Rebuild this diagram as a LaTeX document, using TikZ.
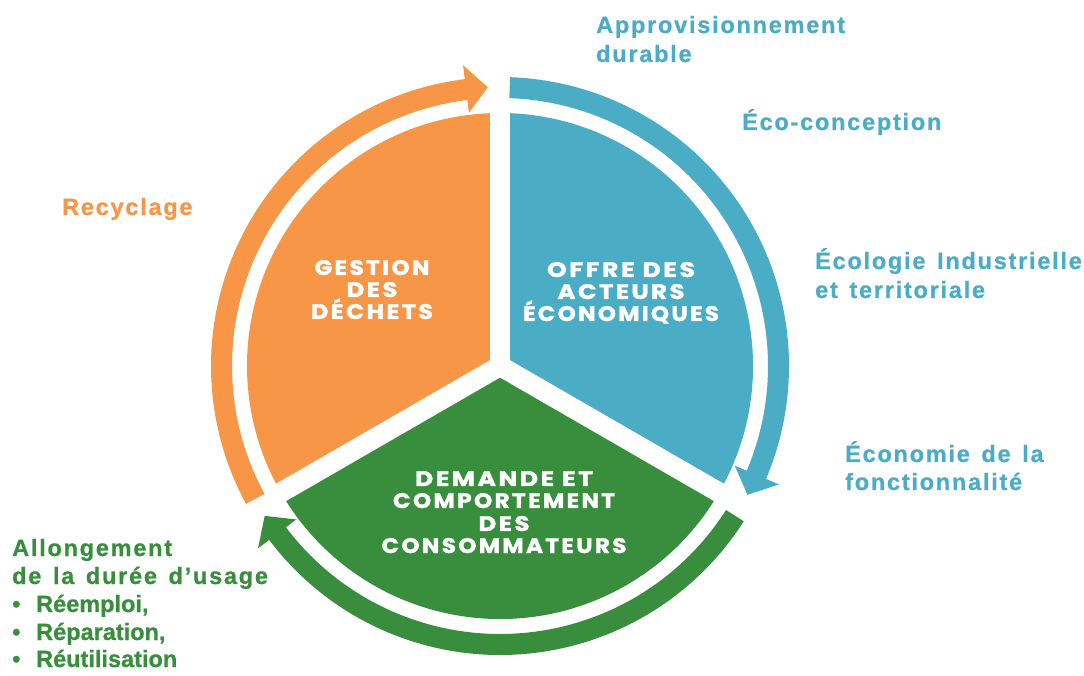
\documentclass[tikz,border=0pt]{standalone}
\usepackage{fontspec}
\usepackage{graphicx}
\usetikzlibrary{calc}
\setmainfont{Liberation Sans}
\newfontfamily\lblfont{Liberation Sans Bold}[LetterSpace=7.5, WordSpace=1.4, FakeBold=0.8]
\newfontfamily\itmfont{Liberation Sans Bold}[FakeBold=0.8]
\newfontfamily\ttlfont{Poppins Bold}[LetterSpace=10, FakeBold=1.5]
\newcommand\ttltext[2]{\resizebox{#1pt}{\height}{#2}}
\definecolor{cOr}{HTML}{F79646}
\definecolor{cBl}{HTML}{4BACC6}
\definecolor{cGr}{HTML}{388E3C}
\tikzset{
  lbl/.style={anchor=base west, inner sep=0pt, font=\lblfont\fontsize{23.5}{28}\selectfont},
  itm/.style={anchor=base west, inner sep=0pt, font=\itmfont\fontsize{23.5}{28}\selectfont},
  ttl/.style={anchor=base, inner sep=0pt, text=white, font=\ttlfont\fontsize{21}{22}\selectfont},
  gapline/.style={white, line width=20pt},
}
\newcommand\cyclearrow[4]{%
  \fill[#1] ($(C)+(#2:268pt)$) arc[start angle=#2,end angle=#3,radius=268pt]
    -- ($(C)+(#3:255pt)$) -- ($(C)+(#4:279pt)$) -- ($(C)+(#3:303pt)$)
    -- ($(C)+(#3:289pt)$) arc[start angle=#3,end angle=#2,radius=289pt] -- cycle;}
\begin{document}
\begin{tikzpicture}[x=1pt,y=1pt]
\useasboundingbox (0,0) rectangle (1084,675);
\coordinate (C) at (500,309);
% sectors
\fill[cOr] (C) -- ($(C)+(90:253pt)$) arc[start angle=90,end angle=210,radius=253pt] -- cycle;
\fill[cBl] (C) -- ($(C)+(-30:253pt)$) arc[start angle=-30,end angle=90,radius=253pt] -- cycle;
\fill[cGr] (C) -- ($(C)+(210:253pt)$) arc[start angle=210,end angle=330,radius=253pt] -- cycle;
\draw[gapline] (C) -- ($(C)+(90:258pt)$);
\draw[gapline] (C) -- ($(C)+(210:258pt)$);
\draw[gapline] (C) -- ($(C)+(330:258pt)$);
% cycle arrows
\cyclearrow{cOr}{208.5}{97}{92.5}
\cyclearrow{cBl}{88}{-23}{-27.5}
\cyclearrow{cGr}{327.5}{217}{212.5}
% titles
\node[ttl] (g1) at (372,400) {\ttltext{115}{GESTION}};
\node[ttl] (g2) at (372,378) {\ttltext{51}{DES}};
\node[ttl] (g3) at (372,356) {\ttltext{122}{DÉCHETS}};
\node[ttl] (o1) at (621,398) {\ttltext{148}{OFFRE DES}};
\node[ttl] (o2) at (621,376) {\ttltext{127}{ACTEURS}};
\node[ttl] (o3) at (621,354) {\ttltext{196}{ÉCONOMIQUES}};
\node[ttl] (d1) at (504,189) {\ttltext{178}{DEMANDE ET}};
\node[ttl] (d2) at (504,167) {\ttltext{222}{COMPORTEMENT}};
\node[ttl] (d3) at (504,144) {\ttltext{51}{DES}};
\node[ttl] (d4) at (504,122) {\ttltext{245}{CONSOMMATEURS}};
% labels
\node[lbl, text=cBl] (apr1) at (596,642) {Approvisionnement};
\node[lbl, text=cBl] (apr2) at (596,613) {durable};
\node[lbl, text=cBl] (eco) at (742,545) {Éco-conception};
\node[lbl, text=cBl] (ecol1) at (815,406) {Écologie Industrielle};
\node[lbl, text=cBl] (ecol2) at (815,377) {et territoriale};
\node[lbl, text=cBl] (econ1) at (845,213) {Économie de la};
\node[lbl, text=cBl] (econ2) at (845,185) {fonctionnalité};
\node[lbl, text=cOr] (recy) at (62,460) {Recyclage};
\node[lbl, text=cGr] (allo) at (12,119) {Allongement};
\node[lbl, text=cGr] (duree) at (12,91) {de la durée d’usage};
\node[itm, text=cGr] (it1) at (12,63) {\makebox[24pt][l]{•}Réemploi,};
\node[itm, text=cGr] (it2) at (12,35) {\makebox[24pt][l]{•}Réparation,};
\node[itm, text=cGr] (it3) at (12,8) {\makebox[24pt][l]{•}Réutilisation};
\end{tikzpicture}
\end{document}
